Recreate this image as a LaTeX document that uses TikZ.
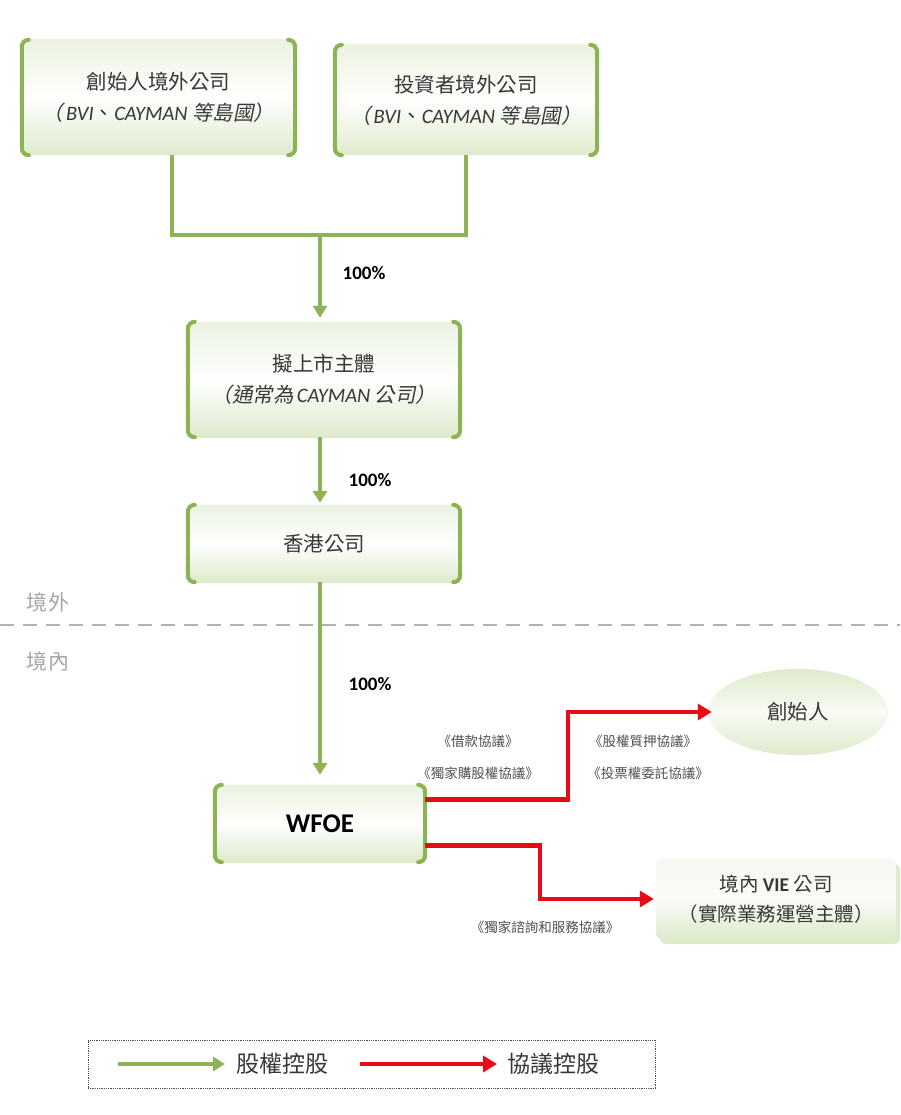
\documentclass[tikz,border=0pt]{standalone}
\usepackage{fontspec}
\setmainfont{Carlito}
\newfontfamily\cjk{Noto Sans CJK TC}
\newfontfamily\cjksl[FakeSlant=0.2]{Noto Sans CJK TC}
\usetikzlibrary{arrows.meta,shapes.geometric,shadows,calc}
\definecolor{gr}{RGB}{141,180,84}
\definecolor{rd}{RGB}{232,10,20}
\definecolor{lg}{RGB}{222,234,204}
\definecolor{txt}{RGB}{55,55,55}
\definecolor{lbl}{RGB}{80,80,80}
\newcommand\brackets[1]{%
  \draw[brk] ([xshift=7pt]#1.north west) -- (#1.north west) -- (#1.south west) -- ([xshift=7pt]#1.south west);
  \draw[brk] ([xshift=-7pt]#1.north east) -- (#1.north east) -- (#1.south east) -- ([xshift=-7pt]#1.south east);}
\begin{document}
\begin{tikzpicture}[x=1pt,y=-1pt,
  bbox/.style={minimum width=#1, inner sep=0pt, top color=lg!60, bottom color=lg, middle color=white, draw=none, align=center, text=txt, font=\fontsize{20.5}{31}\selectfont},
  brk/.style={gr, line width=4pt, rounded corners=7pt, line cap=round},
  gline/.style={gr, line width=4pt},
  garrow/.style={gr, line width=4pt, -{Triangle[length=12pt,width=14pt]}},
  rarrow/.style={rd, line width=4.5pt, -{Triangle[length=14pt,width=16pt]}},
  pct/.style={font=\fontsize{19}{22}\selectfont\bfseries, text=black},
  lab/.style={font=\cjk\fontsize{13.5}{16}\selectfont, text=lbl},
  zone/.style={font=\cjk\fontsize{21}{24}\selectfont, text=black!35},
  legt/.style={font=\cjk\fontsize{23}{26}\selectfont, text=txt}]
\useasboundingbox[fill=white] (0,0) rectangle (900,1115);

% boxes
\node[bbox=273pt, minimum height=115pt] (b1) at (158.5,97.5)
  {{\cjk 創始人境外公司}\\{\cjksl （}\hspace{3pt}\textit{BVI}{\cjk 、}\textit{CAYMAN} {\cjksl 等島國）}};
\node[bbox=262pt, minimum height=110pt] (b2) at (466,100)
  {{\cjk 投資者境外公司}\\{\cjksl （}\hspace{3pt}\textit{BVI}{\cjk 、}\textit{CAYMAN} {\cjksl 等島國）}};
\node[bbox=272pt, minimum height=115pt] (b3) at (324,379.5)
  {{\cjk 擬上市主體}\\{\cjksl （通常為}\,\textit{CAYMAN} {\cjksl 公司）}};
\node[bbox=272pt, minimum height=77pt] (b4) at (324,543.5) {{\cjk 香港公司}};
\node[bbox=210pt, minimum height=77pt, font=\fontsize{27}{30}\selectfont\bfseries, text=black] (wf) at (320,823.5) {WFOE};
\brackets{b1}
\brackets{b2}
\brackets{b3}
\brackets{b4}
\brackets{wf}

\node[ellipse, minimum width=180pt, minimum height=86pt, inner sep=0pt, top color=lg, bottom color=lg, middle color=white!80!lg, text=txt, font=\cjk\fontsize{20.5}{24}\selectfont] (cs) at (798,712) {創始人};
\node[rectangle, rounded corners=6pt, minimum width=240pt, minimum height=80pt, inner sep=0pt, top color=white!70!lg, bottom color=lg, middle color=white!85!lg, drop shadow={fill=lg, opacity=1, shadow xshift=4pt, shadow yshift=-5pt}, align=center, text=txt, font=\cjk\fontsize{19.5}{30}\selectfont] (vie) at (776,899)
  {境內 {\fontspec{Carlito}\bfseries VIE} 公司\\（實際業務運營主體）};

% ownership connectors
\coordinate (j) at (320,235);
\draw[gline] ([xshift=13pt]b1.south) |- (j) -| (b2.south);
\draw[garrow] (j) -- ([yshift=4pt]j |- b3.north);
\draw[garrow] (j |- b3.south) -- ([yshift=2pt]j |- b4.north);
\draw[garrow] (j |- b4.south) -- ([yshift=10pt]wf.north);
\node[pct] (p1) at (364,273) {100\%};
\node[pct] (p2) at (370,480) {100\%};
\node[pct] (p3) at (370,684) {100\%};

% border line
\coordinate (dl) at (0,625);
\coordinate (dr) at (900,625);
\draw[black!30, line width=2.5pt, dash pattern=on 14pt off 9pt] (dl) -- (dr);
\node[zone] (zw) at (48,602) {境外};
\node[zone] (zn) at (48,661) {境內};

% contractual connectors
\draw[rarrow] ($(wf.east)+(0,-24)$) -- ++(143,0) |- ([xshift=4pt]cs.west);
\draw[rarrow] ($(wf.east)+(0,22)$) -- ++(115,0) |- ([xshift=-2pt]vie.west);
\node[lab] (l1) at (478,741) {《借款協議》};
\node[lab] (l2) at (478,773) {《獨家購股權協議》};
\node[lab] (l3) at (643,741) {《股權質押協議》};
\node[lab] (l4) at (648,773) {《投票權委託協議》};
\node[lab] (l5) at (545,927) {《獨家諮詢和服務協議》};

% legend
\node[draw=black!70, densely dotted, line width=0.8pt, minimum width=567pt, minimum height=48pt] (leg) at (371.5,1064) {};
\coordinate (ga) at (118,1064);
\coordinate (gb) at (225,1064);
\coordinate (ra) at (360,1064);
\coordinate (rb) at (497,1064);
\draw[garrow] (ga) -- (gb);
\draw[rarrow] (ra) -- (rb);
\node[legt] (lt1) at (282,1064) {股權控股};
\node[legt] (lt2) at (553,1064) {協議控股};
\end{tikzpicture}
\end{document}
